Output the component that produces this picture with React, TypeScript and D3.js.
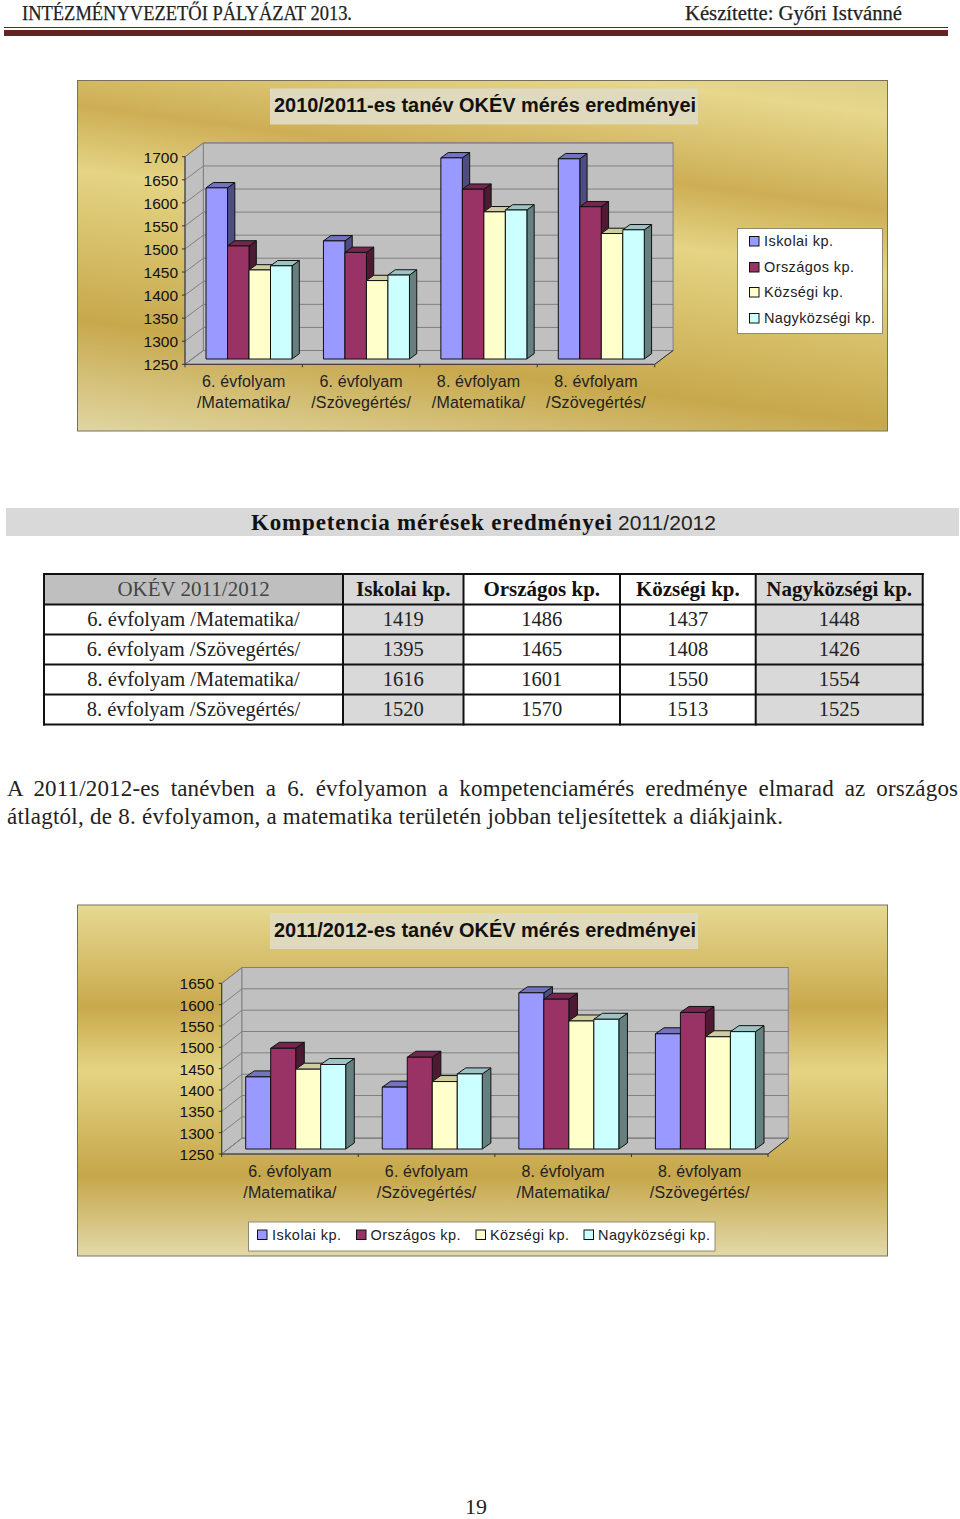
import React from "react";
import * as d3 from "d3";

const categories = ["6. évfolyam /Matematika/", "6. évfolyam /Szövegértés/", "8. évfolyam /Matematika/", "8. évfolyam /Szövegértés/"];
const seriesNames = ["Iskolai kp.", "Országos kp.", "Községi kp.", "Nagyközségi kp."];

// 2010/2011 values
const iskolai2011 = [1621, 1506, 1686, 1684];
const orszagos2011 = [1495, 1481, 1618, 1580];
const kozsegi2011 = [1443, 1420, 1569, 1522];
const nagykozsegi2011 = [1452, 1432, 1573, 1530];
const ticks2011 = [1250, 1300, 1350, 1400, 1450, 1500, 1550, 1600, 1650, 1700];

// 2011/2012 values from the table
const iskolai2012 = [1419, 1395, 1616, 1520];
const orszagos2012 = [1486, 1465, 1601, 1570];
const kozsegi2012 = [1437, 1408, 1550, 1513];
const nagykozsegi2012 = [1448, 1426, 1554, 1525];
const ticks2012 = [1250, 1300, 1350, 1400, 1450, 1500, 1550, 1600, 1650];

const faceFront = ["#9999ff", "#993366", "#ffffcc", "#ccffff"];
const faceTop = ["#7373bf", "#732650", "#cfcca2", "#9dc4c4"];
const faceSide = ["#4d4d80", "#4d1a33", "#808066", "#668080"];

const SANS = "'Liberation Sans', Arial, sans-serif";
const SERIF = "'Liberation Serif', serif";

type ChartProps = {
  id: string; top: number; bottom: number; title: string; titleBoxTop: number; titleBase: number;
  values: number[][]; ticks: number[]; x0: number; x1: number; yBottom: number; yTop: number;
  dx: number; dy: number; barW: number; barDx: number; barDy: number; inset: number; shift: number;
  labelBase: number[]; labelRight: number; gradient: React.ReactNode;
  legend: React.ReactNode;
};

function ticks0(t: number[]) { return t[0]; }
function ticksN(t: number[]) { return t[t.length - 1]; }

function Chart3D(p: ChartProps) {
  const y = d3.scaleLinear().domain([ticks0(p.ticks), ticksN(p.ticks)]).range([p.yBottom, p.yTop]);
  const xCat = d3.scaleBand<string>().domain(categories).range([p.x0, p.x1]);
  const groupW = p.barW * seriesNames.length;
  const xSer = d3.scaleBand<string>().domain(seriesNames).range([0, groupW]);
  const bw = xCat.bandwidth();
  const base = y(ticks0(p.ticks)) - p.inset;
  const edges = [...categories.map((c) => xCat(c) as number), p.x1];
  return (
    <g>
      <defs>{p.gradient}</defs>
      <rect x={77.5} y={p.top} width={810} height={p.bottom - p.top} fill={`url(#${p.id})`} stroke="#77735a" strokeWidth={1} />
      <rect x={270} y={p.titleBoxTop} width={428} height={36} fill="#dfd9bd" />
      <text x={274} y={p.titleBase} fontFamily={SANS} fontWeight="bold" fontSize={20} fill="#111" textLength={422} lengthAdjust="spacingAndGlyphs">{p.title}</text>

      {/* walls */}
      <path d={`M${p.x0},${p.yBottom}L${p.x0},${p.yTop}L${p.x0 + p.dx},${p.yTop - p.dy}L${p.x0 + p.dx},${p.yBottom - p.dy}Z`} fill="#c0c0c0" stroke="#808080" />
      <rect x={p.x0 + p.dx} y={p.yTop - p.dy} width={p.x1 - p.x0} height={p.yBottom - p.yTop} fill="#c0c0c0" stroke="#808080" />
      <path d={`M${p.x0},${p.yBottom}L${p.x1},${p.yBottom}L${p.x1 + p.dx},${p.yBottom - p.dy}L${p.x0 + p.dx},${p.yBottom - p.dy}Z`} fill="#c0c0c0" stroke="#808080" />
      {p.ticks.map((t) => (
        <g key={t}>
          <line x1={p.x0} x2={p.x0 + p.dx} y1={y(t)} y2={y(t) - p.dy} stroke="#808080" />
          <line x1={p.x0 + p.dx} x2={p.x1 + p.dx} y1={y(t) - p.dy} y2={y(t) - p.dy} stroke="#808080" />
        </g>
      ))}

      {/* axes */}
      <line x1={p.x0} x2={p.x0} y1={p.yTop} y2={p.yBottom} stroke="#333" />
      <line x1={p.x0} x2={p.x1} y1={p.yBottom} y2={p.yBottom} stroke="#333" />
      <line x1={p.x1} x2={p.x1 + p.dx} y1={p.yBottom} y2={p.yBottom - p.dy} stroke="#333" />
      {p.ticks.map((t) => (
        <g key={t}>
          <line x1={p.x0 - 3} x2={p.x0} y1={y(t)} y2={y(t)} stroke="#333" />
          <text x={p.labelRight} y={y(t) + 6} textAnchor="end" fontFamily={SANS} fontSize={15.5} fill="#111">{t}</text>
        </g>
      ))}
      {edges.map((e) => <line key={e} x1={e} x2={e} y1={p.yBottom} y2={p.yBottom + 3} stroke="#333" />)}

      {/* bars */}
      {categories.map((c, ci) => {
        const gx = (xCat(c) as number) + (bw - groupW) / 2 + p.shift;
        return (
          <g key={c}>
            {seriesNames.map((s, si) => {
              const bx = gx + (xSer(s) as number);
              const w = xSer.bandwidth();
              const v = p.values[si][ci];
              const ty = y(v) - p.inset;
              return (
                <g key={s} stroke="#111" strokeWidth={1} strokeLinejoin="round">
                  <path d={`M${bx + w},${base}L${bx + w},${ty}L${bx + w + p.barDx},${ty - p.barDy}L${bx + w + p.barDx},${base - p.barDy}Z`} fill={faceSide[si]} />
                  <path d={`M${bx},${ty}L${bx + p.barDx},${ty - p.barDy}L${bx + w + p.barDx},${ty - p.barDy}L${bx + w},${ty}Z`} fill={faceTop[si]} />
                  <rect x={bx} y={ty} width={w} height={base - ty} fill={faceFront[si]} />
                </g>
              );
            })}
          </g>
        );
      })}

      {/* category labels */}
      {categories.map((c) => {
        const cx = (xCat(c) as number) + bw / 2;
        const i = c.indexOf(" /");
        return (
          <g key={c} fontFamily={SANS} fontSize={16} fill="#222" textAnchor="middle" letterSpacing={0.15}>
            <text x={cx} y={p.labelBase[0]}>{c.slice(0, i)}</text>
            <text x={cx} y={p.labelBase[1]}>{c.slice(i + 1)}</text>
          </g>
        );
      })}
      {p.legend}
    </g>
  );
}

function Swatch({ x, y, i }: { x: number; y: number; i: number }) {
  return <rect x={x} y={y} width={9.5} height={9.5} fill={faceFront[i]} stroke="#111" strokeWidth={1} />;
}

const legend1Y = [241, 267, 292, 318];
const legend1W = [69, 90, 79, 111];
const legend2Sw = [257.5, 356.5, 476, 584];
const legend2Tx = [272, 370.5, 490, 598];
const legend2W = [69, 90, 79, 112];

const colEdges = [44, 343, 463.5, 620, 755.7, 922.7];
const rowEdges = [574, 604.5, 634.5, 664.5, 694.5, 724.5];
const rowBase = [596, 626, 656, 686, 716];
const headCols = ["OKÉV 2011/2012", ...seriesNames];
const headFill = ["#bfbfbf", "#d9d9d9", "#ffffff", "#ffffff", "#d9d9d9"];
const bodyFill = ["#ffffff", "#d9d9d9", "#ffffff", "#ffffff", "#d9d9d9"];

const values2011 = [iskolai2011, orszagos2011, kozsegi2011, nagykozsegi2011];
const values2012 = [iskolai2012, orszagos2012, kozsegi2012, nagykozsegi2012];

export default function App() {
  return (
    <svg width={960} height={1519} viewBox="0 0 960 1519" style={{ position: "absolute", left: 0, top: 0, display: "block", background: "#fff" }}>
      {/* page header */}
      <text x={22} y={20} fontFamily={SERIF} fontSize={20.5} fill="#222" stroke="#222" strokeWidth={0.25} textLength={330} lengthAdjust="spacingAndGlyphs">INTÉZMÉNYVEZETŐI PÁLYÁZAT 2013.</text>
      <text x={685} y={20} fontFamily={SERIF} fontSize={20.5} fill="#222" stroke="#222" strokeWidth={0.25} textLength={217} lengthAdjust="spacingAndGlyphs">Készítette: Győri Istvánné</text>
      <rect x={4} y={27} width={944} height={1} fill="#622423" />
      <rect x={4} y={30} width={944} height={6} fill="#622423" />

      <Chart3D
        id="gold1" top={80.5} bottom={431} title="2010/2011-es tanév OKÉV mérés eredményei" titleBoxTop={88.5} titleBase={112}
        values={values2011} ticks={ticks2011} x0={185} x1={654.7} yBottom={364.3} yTop={156.7}
        dx={18.4} dy={13.8} barW={21.5} barDx={7.3} barDy={5.3} inset={5.3} shift={5.3}
        labelBase={[387, 408]} labelRight={178}
        gradient={
          <linearGradient id="gold1" gradientUnits="userSpaceOnUse" x1={91.4} y1={-22} x2={33.4} y2={425}>
            <stop offset="0" stopColor="#ddcf86" />
            <stop offset="0.075" stopColor="#e6d78c" />
            <stop offset="0.284" stopColor="#cdae55" />
            <stop offset="0.426" stopColor="#e4d484" />
            <stop offset="0.756" stopColor="#c7a84c" />
            <stop offset="1" stopColor="#e0d6a2" />
          </linearGradient>
        }
        legend={
          <g>
            <rect x={737.5} y={228.5} width={145} height={105} fill="#fff" stroke="#8f8c74" />
            {seriesNames.map((s, i) => (
              <g key={s}>
                <Swatch x={749.5} y={legend1Y[i] - 4.5} i={i} />
                <text x={764} y={legend1Y[i] + 5} fontFamily={SANS} fontSize={14.5} fill="#222" textLength={legend1W[i]}>{s}</text>
              </g>
            ))}
          </g>
        }
      />

      {/* heading band */}
      <rect x={6} y={508} width={953} height={28} fill="#d9d9d9" />
      <text x={251} y={530} fontFamily={SERIF} fontWeight="bold" fontSize={23} fill="#111" textLength={361}>Kompetencia mérések eredményei</text>
      <text x={618} y={530} fontFamily={SANS} fontSize={21} fill="#222" textLength={98}>2011/2012</text>

      {/* table */}
      {headCols.map((h, c) => (
        <g key={h}>
          <rect x={colEdges[c]} y={rowEdges[0]} width={colEdges[c + 1] - colEdges[c]} height={rowEdges[1] - rowEdges[0]} fill={headFill[c]} />
          <rect x={colEdges[c]} y={rowEdges[1]} width={colEdges[c + 1] - colEdges[c]} height={rowEdges[5] - rowEdges[1]} fill={bodyFill[c]} />
          <text x={(colEdges[c] + colEdges[c + 1]) / 2} y={rowBase[0]} textAnchor="middle" fontFamily={SERIF} fontSize={21} fontWeight={c === 0 ? "normal" : "bold"} fill={c === 0 ? "#444" : "#111"}>{h}</text>
        </g>
      ))}
      {categories.map((cat, r) => (
        <g key={cat} fontFamily={SERIF} fontSize={20.5} fill="#222" textAnchor="middle">
          <text x={(colEdges[0] + colEdges[1]) / 2} y={rowBase[r + 1]}>{cat}</text>
          {values2012.map((vals, s) => (
            <text key={s} x={(colEdges[s + 1] + colEdges[s + 2]) / 2} y={rowBase[r + 1]}>{vals[r]}</text>
          ))}
        </g>
      ))}
      {colEdges.map((x) => <line key={x} x1={x} x2={x} y1={rowEdges[0] - 1} y2={rowEdges[5] + 1} stroke="#111" strokeWidth={2} />)}
      {rowEdges.map((y) => <line key={y} x1={colEdges[0] - 1} x2={colEdges[5] + 1} y1={y} y2={y} stroke="#111" strokeWidth={2} />)}

      {/* paragraph */}
      <text x={7} y={796} fontFamily={SERIF} fontSize={23} fill="#222" wordSpacing={5} textLength={951}>A 2011/2012-es tanévben a 6. évfolyamon a kompetenciamérés eredménye elmarad az országos</text>
      <text x={7} y={824} fontFamily={SERIF} fontSize={23} fill="#222" textLength={776}>átlagtól, de 8. évfolyamon, a matematika területén jobban teljesítettek a diákjaink.</text>

      <Chart3D
        id="gold2" top={905} bottom={1256} title="2011/2012-es tanév OKÉV mérés eredményei" titleBoxTop={913} titleBase={937}
        values={values2012} ticks={ticks2012} x0={221.7} x1={768} yBottom={1154} yTop={983.3}
        dx={20.3} dy={15.8} barW={25} barDx={8.6} barDy={6} inset={5} shift={5.7}
        labelBase={[1177, 1198]} labelRight={214}
        gradient={
          <linearGradient id="gold2" gradientUnits="userSpaceOnUse" x1={0} y1={905} x2={0} y2={1256}>
            <stop offset="0" stopColor="#e6d992" />
            <stop offset="0.29" stopColor="#c9a94c" />
            <stop offset="0.47" stopColor="#e4d484" />
            <stop offset="0.77" stopColor="#c6a64a" />
            <stop offset="1" stopColor="#e2d9a8" />
          </linearGradient>
        }
        legend={
          <g>
            <rect x={248.5} y={1222} width={466.5} height={29} fill="#fff" stroke="#8f8c74" />
            {seriesNames.map((s, i) => (
              <g key={s}>
                <Swatch x={legend2Sw[i]} y={1230} i={i} />
                <text x={legend2Tx[i]} y={1240} fontFamily={SANS} fontSize={14.5} fill="#222" textLength={legend2W[i]}>{s}</text>
              </g>
            ))}
          </g>
        }
      />

      <text x={476} y={1514} textAnchor="middle" fontFamily={SERIF} fontSize={22} fill="#222">19</text>
    </svg>
  );
}
